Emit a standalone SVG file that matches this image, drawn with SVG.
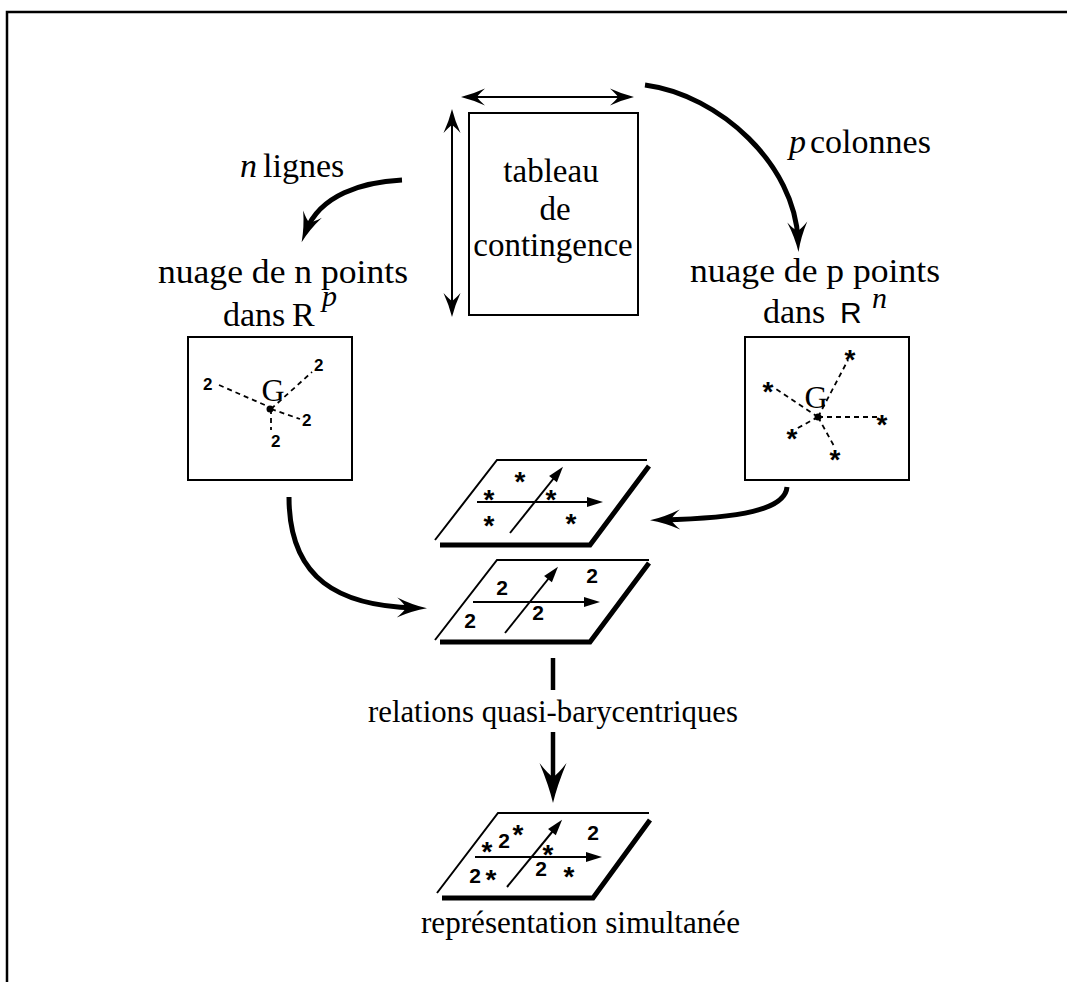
<svg xmlns="http://www.w3.org/2000/svg" width="1067" height="982" viewBox="0 0 1067 982">
<style>
.serif{font-family:"Liberation Serif","Times New Roman",serif;fill:#000}
.lbl{font-size:34px}
.it{font-style:italic}
.sans{font-family:"Liberation Sans",Arial,sans-serif;font-weight:bold;fill:#000}
.two{font-size:17px}
.two2{font-size:21px}
.star{font-family:"Liberation Sans",Arial,sans-serif;font-weight:bold;font-size:28px;text-anchor:middle;fill:#000}
.thick{fill:none;stroke:#000;stroke-width:5}
.thin{fill:none;stroke:#000;stroke-width:2}
.dash{fill:none;stroke:#000;stroke-width:1.8;stroke-dasharray:5 4}
.box{fill:none;stroke:#000;stroke-width:2}
</style>
<defs>
<marker id="bigHead" markerUnits="userSpaceOnUse" orient="auto" refX="0" refY="0" markerWidth="40" markerHeight="30" overflow="visible">
<path d="M12,0 Q-3,-3 -18,-10 Q-11,-4 -9,0 Q-11,4 -18,10 Q-3,3 12,0Z" fill="#000"/>
</marker>
<marker id="hugeHead" markerUnits="userSpaceOnUse" orient="auto" refX="0" refY="0" markerWidth="50" markerHeight="40" overflow="visible">
<path d="M13,0 Q-4,-4 -27,-13.5 Q-16,-5 -13,0 Q-16,5 -27,13.5 Q-4,4 13,0Z" fill="#000"/>
</marker>
<marker id="thinHead" markerUnits="userSpaceOnUse" orient="auto-start-reverse" refX="0" refY="0" markerWidth="30" markerHeight="20" overflow="visible">
<path d="M9,0 Q-3,-3 -15,-8.5 Q-9,-3 -7,0 Q-9,3 -15,8.5 Q-3,3 9,0Z" fill="#000"/>
</marker>
<marker id="axisHead" markerUnits="userSpaceOnUse" orient="auto" refX="0" refY="0" markerWidth="20" markerHeight="12" overflow="visible">
<path d="M-8,-5 L8,0 L-8,5Z" fill="#000"/>
</marker>
</defs>
<rect width="1067" height="982" fill="#fff"/>
<g id="frame">
<polyline points="7,982 7,12 1067,12" fill="none" stroke="#000" stroke-width="2.5"/>
</g>
<g id="tableau">
<rect class="box" x="469" y="113" width="169" height="202"/>
<text class="serif" font-size="33" text-anchor="middle" x="551" y="182">tableau</text>
<text class="serif" font-size="33" text-anchor="middle" x="555" y="220">de</text>
<text class="serif" font-size="33" text-anchor="middle" x="553" y="256">contingence</text>
</g>
<g id="label-n-lignes">
<text class="serif lbl" y="177"><tspan class="it" x="240">n</tspan><tspan x="263">lignes</tspan></text>
</g>
<g id="label-p-colonnes">
<text class="serif lbl" y="153"><tspan class="it" x="789">p</tspan><tspan x="810">colonnes</tspan></text>
</g>
<g id="nuage-n">
<text class="serif lbl" x="158" y="283" textLength="250" lengthAdjust="spacingAndGlyphs">nuage de n points</text>
<text class="serif lbl" y="326"><tspan x="223">dans</tspan><tspan x="292">R</tspan></text>
<text class="serif it" font-size="30" x="322" y="306">p</text>
<rect class="box" x="188" y="337" width="164" height="143"/>
<text class="serif" font-size="32" text-anchor="middle" x="273" y="401">G</text>
<circle cx="270" cy="409" r="3.5" fill="#000"/>
<path class="dash" d="M219,385 L267,406 M271,409 L312,372 M271,409 L300,419 M271,409 L271,430"/>
<text class="sans two" x="203" y="390">2</text>
<text class="sans two" x="314" y="371">2</text>
<text class="sans two" x="302" y="426">2</text>
<text class="sans two" x="271" y="447">2</text>
</g>
<g id="nuage-p">
<text class="serif lbl" x="690" y="282" textLength="250" lengthAdjust="spacingAndGlyphs">nuage de p points</text>
<text class="serif lbl" x="763" y="323">dans</text>
<text font-family="Liberation Sans,Arial,sans-serif" font-size="30" x="840" y="323">R</text>
<text class="serif it" font-size="30" x="872" y="308">n</text>
<rect class="box" x="745" y="337" width="164" height="143"/>
<text class="serif" font-size="32" text-anchor="middle" x="816" y="408">G</text>
<circle cx="818" cy="417" r="3.5" fill="#000"/>
<path class="dash" d="M818,417 L848,360 M818,417 L773,387 M818,417 L877,417 M818,417 L796,429 M818,417 L834,446"/>
<text class="star" x="850" y="369">*</text>
<text class="star" x="768" y="401">*</text>
<text class="star" x="882" y="434">*</text>
<text class="star" x="792" y="448">*</text>
<text class="star" x="835" y="469">*</text>
</g>
<g id="plan-colonnes">
<polyline class="thin" points="647,460 497,460 435,540"/>
<polyline class="thick" points="440,545 590,545 649,466"/>
<line class="thin" x1="477" y1="502" x2="595" y2="502" marker-end="url(#axisHead)"/>
<line class="thin" x1="510" y1="533" x2="558" y2="473" marker-end="url(#axisHead)"/>
<text class="star" x="520" y="491">*</text>
<text class="star" x="489" y="509">*</text>
<text class="star" x="551" y="509">*</text>
<text class="star" x="489" y="535">*</text>
<text class="star" x="571" y="533">*</text>
</g>
<g id="plan-lignes">
<polyline class="thin" points="649,560 497,560 435,640"/>
<polyline class="thick" points="440,642 590,642 649,563"/>
<line class="thin" x1="473" y1="602" x2="592" y2="602" marker-end="url(#axisHead)"/>
<line class="thin" x1="505" y1="633" x2="553" y2="573" marker-end="url(#axisHead)"/>
<g class="sans two2" text-anchor="middle">
<text x="502" y="595">2</text>
<text x="592" y="583">2</text>
<text x="538" y="620">2</text>
<text x="470" y="628">2</text>
</g>
</g>
<g id="relations">
<text class="serif" font-size="32" x="368" y="722" textLength="370" lengthAdjust="spacingAndGlyphs">relations quasi-barycentriques</text>
</g>
<g id="plan-simultane">
<polyline class="thin" points="649,813 498,813 437,893"/>
<polyline class="thick" points="442,898 593,898 650,820"/>
<line class="thin" x1="475" y1="857" x2="594" y2="857" marker-end="url(#axisHead)"/>
<line class="thin" x1="507" y1="887" x2="557" y2="826" marker-end="url(#axisHead)"/>
<g class="sans two2" text-anchor="middle">
<text x="504" y="848">2</text>
<text x="593" y="840">2</text>
<text x="475" y="883">2</text>
<text x="541" y="876">2</text>
</g>
<text class="star" x="487" y="861">*</text>
<text class="star" x="518" y="844">*</text>
<text class="star" x="548" y="864">*</text>
<text class="star" x="491" y="889">*</text>
<text class="star" x="569" y="886">*</text>
<text class="serif" font-size="32" x="421" y="933" textLength="319" lengthAdjust="spacingAndGlyphs">représentation simultanée</text>
</g>
<g id="connectors">
<line class="thin" x1="470" y1="97" x2="625" y2="97" marker-start="url(#thinHead)" marker-end="url(#thinHead)"/>
<line class="thin" x1="452" y1="118" x2="452" y2="308" marker-start="url(#thinHead)" marker-end="url(#thinHead)"/>
<path class="thick" d="M402,180 C362,182 320,195 306,231" marker-end="url(#bigHead)"/>
<path class="thick" d="M645,85 C720,95 795,165 798,240" marker-end="url(#bigHead)"/>
<path class="thick" d="M289,497 C289,580 340,606 415,608" marker-end="url(#bigHead)"/>
<path class="thick" d="M787,487 C785,510 740,518 662,520" marker-end="url(#bigHead)"/>
<line x1="553" y1="658" x2="553" y2="690" stroke="#000" stroke-width="4.5"/>
<line x1="553" y1="732" x2="553" y2="790" stroke="#000" stroke-width="4.5" marker-end="url(#hugeHead)"/>
</g>
</svg>
